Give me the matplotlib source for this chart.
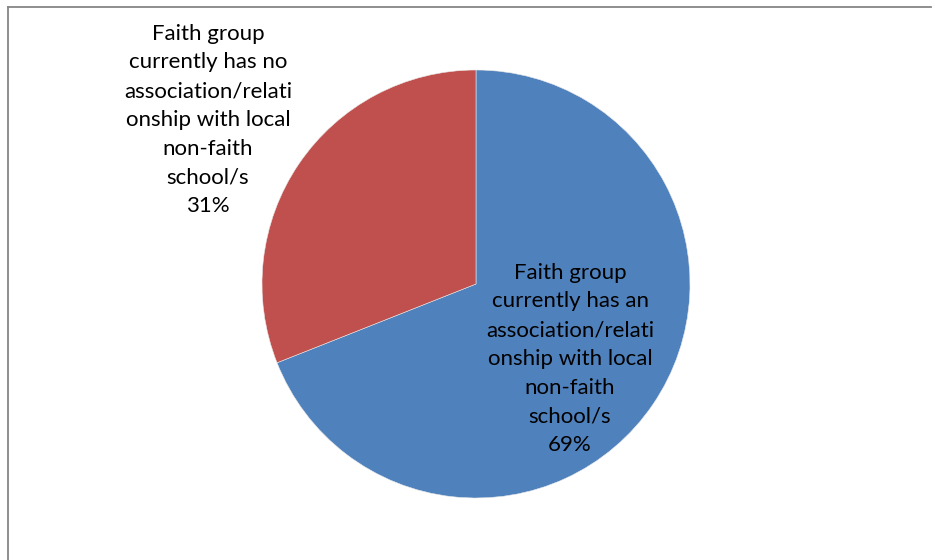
import matplotlib
matplotlib.use("Agg")
import matplotlib.pyplot as plt
from matplotlib.lines import Line2D

labels = ["Faith group\ncurrently has an\nassociation/relati\nonship with local\nnon-faith\nschool/s",
          "Faith group\ncurrently has no\nassociation/relati\nonship with local\nnon-faith\nschool/s"]
values = [69, 31]
colors = ["#4F81BD", "#C0504D"]

W, H = 935, 560
fig = plt.figure(figsize=(W / 100, H / 100), dpi=100)
ax = fig.add_axes([0, 0, 1, 1])
ax.set_xlim(0, W)
ax.set_ylim(0, H)
ax.set_aspect("equal")
ax.axis("off")

ax.pie(values, colors=colors, startangle=90, counterclock=False,
       center=(476, H - 284), radius=214, frame=True,
       wedgeprops=dict(linewidth=0.4, edgecolor="#e8e8e8"))
ax.set_xlim(0, W)
ax.set_ylim(0, H)
ax.axis("off")

font = "Lato"
label_pos = [(570, H - 359), (208, H - 120)]
for lab, v, (x, y) in zip(labels, values, label_pos):
    ax.text(x, y, f"{lab}\n{v}%", ha="center", va="center", fontsize=16,
            family=font, color="black", linespacing=1.55)

# chart border (partially visible)
fig.add_artist(Line2D([7.5 / W, 7.5 / W], [0, 1 - 6.5 / H], transform=fig.transFigure,
                      color="#868686", lw=1.3))
fig.add_artist(Line2D([7.5 / W, 931 / W], [1 - 6.5 / H, 1 - 6.5 / H], transform=fig.transFigure,
                      color="#868686", lw=1.3))

fig.savefig("out.png", dpi=100, facecolor="white")
